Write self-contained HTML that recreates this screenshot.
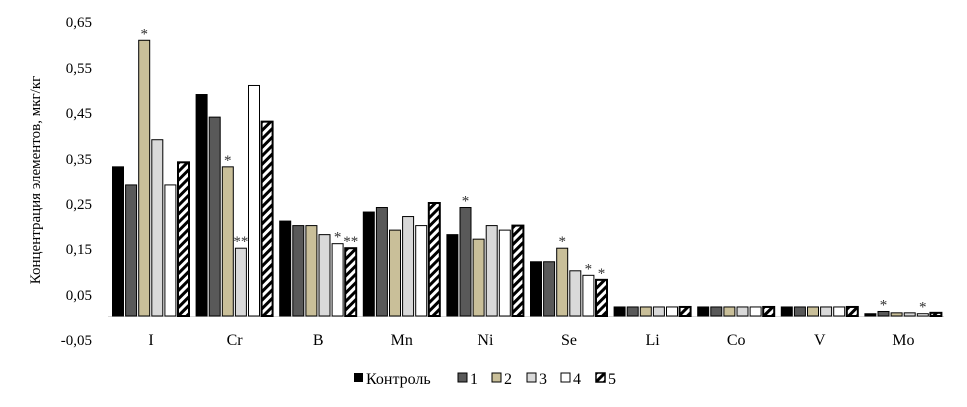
<!DOCTYPE html>
<html><head><meta charset="utf-8"><style>body{margin:0;background:#fff}svg{display:block}svg,svg text{font-family:"Liberation Serif","DejaVu Serif",serif !important}</style></head><body>
<svg width="967" height="407" viewBox="0 0 967 407" xmlns="http://www.w3.org/2000/svg" style="font-family:'Liberation Serif','DejaVu Serif',serif">
<defs><pattern id="h" patternUnits="userSpaceOnUse" width="6" height="6" patternTransform="rotate(45)"><rect width="6" height="6" fill="#fff"/><rect width="3" height="6" fill="#000"/></pattern></defs>
<g font-size="15" text-anchor="end">
<text x="92" y="27">0,65</text><text x="92" y="73">0,55</text><text x="92" y="118">0,45</text><text x="92" y="164">0,35</text><text x="92" y="209">0,25</text><text x="92" y="254">0,15</text><text x="92" y="300">0,05</text><text x="92" y="345">-0,05</text>
</g>
<text transform="translate(40,180) rotate(-90)" font-size="15" text-anchor="middle">Концентрация элементов, мкг/кг</text>
<line x1="108" y1="316.5" x2="944" y2="316.5" stroke="#d9d9d9" stroke-width="1"/>
<g id="bars"></g>
<g font-size="16" text-anchor="middle" id="labels"></g>
<g font-size="15" id="stars" fill="#333"></g>
<g font-size="16">
<rect x="354" y="373" width="9" height="9" fill="#000"/><text x="366" y="384">Контроль</text>
<rect x="458" y="373" width="9" height="9" fill="#595959" stroke="#000"/><text x="470" y="384">1</text>
<rect x="492" y="373" width="9" height="9" fill="#c9bf99" stroke="#000"/><text x="504" y="384">2</text>
<rect x="527" y="373" width="9" height="9" fill="#d9d9d9" stroke="#000"/><text x="539" y="384">3</text>
<rect x="561" y="373" width="9" height="9" fill="#fff" stroke="#000"/><text x="573" y="384">4</text>
<rect x="596" y="373" width="9" height="9" fill="url(#h)" stroke="#000" stroke-width="1.5"/><text x="608" y="384">5</text>
</g>
<script>
var names=["I","Cr","B","Mn","Ni","Se","Li","Co","V","Mo"];
var d=[[.33,.29,.61,.39,.29,.34],[.49,.44,.33,.15,.51,.43],[.21,.20,.20,.18,.16,.15],[.23,.24,.19,.22,.20,.25],[.18,.24,.17,.20,.19,.20],[.12,.12,.15,.10,.09,.08],[.02,.02,.02,.02,.02,.02],[.02,.02,.02,.02,.02,.02],[.02,.02,.02,.02,.02,.02],[.005,.01,.007,.007,.005,.007]];
var st={"0-2":"*","1-2":"*","1-3":"**","2-4":"*","2-5":"**","4-1":"*","5-2":"*","5-4":"*","5-5":"*","9-1":"*","9-4":"*"};
var fills=["#000","#595959","#c9bf99","#d9d9d9","#fff","url(#h)"];
var ns="http://www.w3.org/2000/svg",B=document.getElementById("bars"),L=document.getElementById("labels"),S=document.getElementById("stars");
function el(t,a,p,tx){var e=document.createElementNS(ns,t);for(var k in a)e.setAttribute(k,a[k]);if(tx)e.textContent=tx;p.appendChild(e);return e;}
for(var g=0;g<10;g++){var x0=112+g*83.6;
for(var i=0;i<6;i++){var v=d[g][i],h=v*452,x=x0+i*13.1,y=316-h;
el("rect",{x:x+0.5,y:y,width:11,height:h,fill:fills[i],stroke:"#000","stroke-width":i==5?2:1},B);
var s=st[g+"-"+i];if(s)el("text",{x:x+6,y:y-2,"text-anchor":"middle"},S,s);}
el("text",{x:x0+39,y:345},L,names[g]);}
</script>
</svg>
</body></html>
